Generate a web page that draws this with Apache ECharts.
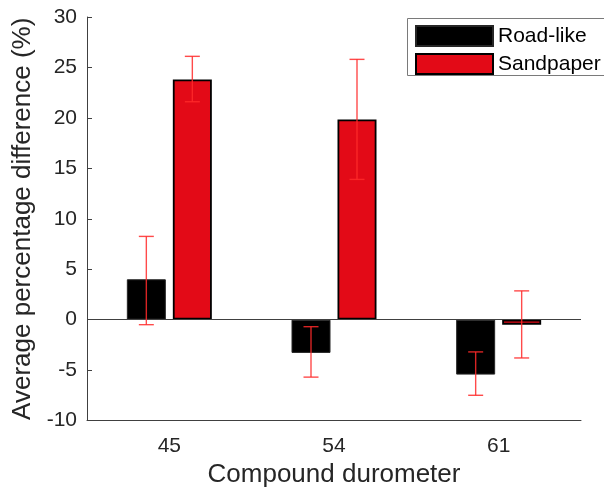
<!DOCTYPE html>
<html>
<head>
<meta charset="utf-8">
<script src="https://cdn.jsdelivr.net/npm/echarts@6/dist/echarts.min.js"></script>
<style>html,body{margin:0;padding:0;background:#fff}#c{width:604px;height:488px}</style>
</head>
<body>
<div id="c"></div>
<script>
const categories = ['45', '54', '61'];
const seriesNames = ['Road-like', 'Sandpaper'];
const roadValues = [4.0, -3.3, -5.45];
const roadErrLow = [-0.5, -5.7, -7.5];
const roadErrHigh = [8.25, -0.7, -3.2];
const sandValues = [23.8, 19.85, -0.5];
const sandErrLow = [21.6, 13.9, -3.8];
const sandErrHigh = [26.1, 25.8, 2.85];
const yTicks = { min: -10, max: 30, step: 5 };

const FONT = '"Liberation Sans", Arial, sans-serif';
const TXT = '#262626';
const BAR_W = 39;
const BAR_GAP_PX = 7;
const OFFSET = (BAR_W + BAR_GAP_PX) / 2;
const CAP = 7.5;

function errSeries(low, high, dir) {
  return {
    type: 'custom',
    z: 5,
    silent: true,
    data: categories.map((c, i) => [i, low[i], high[i]]),
    renderItem: function (params, api) {
      const i = api.value(0);
      const lo = api.coord([i, api.value(1)]);
      const hi = api.coord([i, api.value(2)]);
      const x = lo[0] + dir * OFFSET;
      const st = { stroke: '#ff2a2a', lineWidth: 1.4, opacity: 0.85 };
      return {
        type: 'group',
        children: [
          { type: 'line', shape: { x1: x, y1: lo[1], x2: x, y2: hi[1] }, style: st },
          { type: 'line', shape: { x1: x - CAP, y1: lo[1], x2: x + CAP, y2: lo[1] }, style: st },
          { type: 'line', shape: { x1: x - CAP, y1: hi[1], x2: x + CAP, y2: hi[1] }, style: st }
        ]
      };
    }
  };
}

const chart = echarts.init(document.getElementById('c'), null, { renderer: 'canvas' });
chart.setOption({
  animation: false,
  backgroundColor: '#fff',
  textStyle: { fontFamily: FONT },
  grid: { left: 87, right: 23, top: 17, bottom: 67.5, containLabel: false, outerBoundsMode: 'none' },
  graphic: [{
    type: 'rect',
    z: 3,
    silent: true,
    shape: { x: 407.5, y: 18.5, width: 240, height: 57 },
    style: { fill: '#fff', stroke: '#7a7a7a', lineWidth: 1 }
  }],
  legend: {
    orient: 'vertical',
    left: 407,
    top: 18,
    z: 10,
    padding: [7, 10, 5, 8],
    itemWidth: 77,
    itemHeight: 20,
    itemGap: 6,
    borderWidth: 0,
    icon: 'rect',
    textStyle: { fontSize: 21, color: '#000', fontFamily: FONT },
    data: seriesNames
  },
  xAxis: {
    type: 'category',
    data: categories,
    name: 'Compound durometer',
    nameLocation: 'middle',
    nameGap: 40,
    nameTextStyle: { fontSize: 26, color: TXT, fontFamily: FONT },
    axisLine: { onZero: false, lineStyle: { color: '#404040', width: 1 } },
    axisTick: { alignWithLabel: true, inside: true, length: 5, lineStyle: { color: '#404040' } },
    axisLabel: { fontSize: 21, color: TXT, margin: 15, fontFamily: FONT },
    splitLine: { show: false }
  },
  yAxis: {
    type: 'value',
    min: yTicks.min,
    max: yTicks.max,
    interval: yTicks.step,
    name: 'Average percentage difference (%)',
    nameLocation: 'middle',
    nameGap: 50,
    nameTextStyle: { fontSize: 26, color: TXT, fontFamily: FONT },
    axisLine: { show: true, lineStyle: { color: '#404040', width: 1 } },
    axisTick: { show: true, inside: true, length: 5, lineStyle: { color: '#404040' } },
    axisLabel: { fontSize: 21, color: TXT, margin: 10, fontFamily: FONT },
    splitLine: { show: false }
  },
  series: [
    {
      name: seriesNames[0],
      type: 'bar',
      data: roadValues,
      barWidth: BAR_W,
      barGap: (BAR_GAP_PX / BAR_W * 100) + '%',
      itemStyle: { color: '#000', borderColor: '#262626', borderWidth: 1 },
      markLine: {
        silent: true,
        symbol: 'none',
        label: { show: false },
        lineStyle: { color: '#404040', width: 1, type: 'solid' },
        data: [{ yAxis: 0 }]
      }
    },
    {
      name: seriesNames[1],
      type: 'bar',
      data: sandValues,
      barWidth: BAR_W,
      itemStyle: { color: '#e30a17', borderColor: '#000', borderWidth: 1.8 }
    },
    errSeries(roadErrLow, roadErrHigh, -1),
    errSeries(sandErrLow, sandErrHigh, 1)
  ]
});
</script>
</body>
</html>
